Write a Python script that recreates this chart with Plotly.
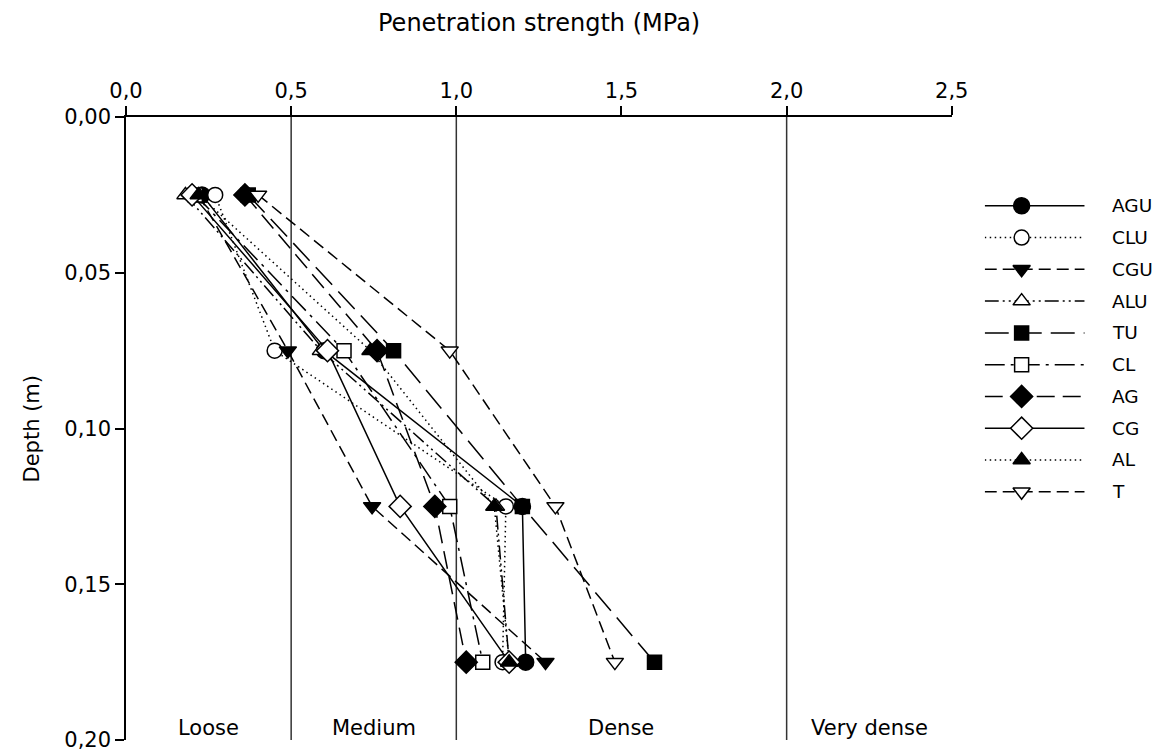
import plotly.graph_objects as go

# ---------------- data ----------------
depths = [0.025, 0.075, 0.125, 0.175]
series_names = ["AGU", "CLU", "CGU", "ALU", "TU", "CL", "AG", "CG", "AL", "T"]
AGU = [0.23, 0.60, 1.20, 1.21]
CLU = [0.27, 0.45, 1.15, 1.14]
CGU = [0.22, 0.49, 0.745, 1.27]
ALU = [0.18, 0.59, 1.12, 1.16]
TU = [0.37, 0.81, 1.20, 1.60]
CL = [0.21, 0.66, 0.98, 1.08]
AG = [0.36, 0.76, 0.935, 1.03]
CG = [0.20, 0.61, 0.83, 1.16]
AL = [0.22, 0.74, 1.115, 1.16]
T = [0.40, 0.98, 1.30, 1.48]
series_values = [AGU, CLU, CGU, ALU, TU, CL, AG, CG, AL, T]

x_ticks = [0.0, 0.5, 1.0, 1.5, 2.0, 2.5]
y_ticks = [0.00, 0.05, 0.10, 0.15, 0.20]
class_names = ["Loose", "Medium", "Dense", "Very dense"]
class_centres = [0.25, 0.75, 1.5, 2.25]
class_bounds = [0.5, 1.0, 2.0]

# ---------------- styles ----------------
symbols = ["circle", "circle", "triangle-down", "triangle-up", "square",
           "square", "diamond", "diamond", "triangle-up", "triangle-down"]
filled = [True, False, True, False, True, False, True, False, True, False]
dashes = ["solid", "1.5px,3.5px", "12px,6px", "14px,4px,2px,4px,2px,4px",
          "24px,9px", "20px,6px,3px,6px", "18px,8px", "solid",
          "1.5px,3.5px", "12px,6px"]
sizes = [16, 15, 15, 15, 14, 14, 17, 17, 15, 15]

FONT = "DejaVu Sans"
W, H = 1167, 753
# observed photo scale vs. figure pixels (empirical)
SX, SY = 0.986, 0.988


def fx(t):
    return t / SX


def fy(t):
    return t / SY


# target geometry (photo pixels) -> figure pixels
X0, X25 = fx(124), fx(952)
Y0, Y20 = fy(116), fy(743)
ML = round(X0)
MT = round(Y0)
MR = 1
MB = max(0, round(H - Y20))
PW = W - ML - MR
PH = H - MT - MB


def px_x(fig_x):
    return (fig_x - ML) / PW


def px_y(fig_y):
    return (H - MB - fig_y) / PH


fig = go.Figure()

for name, vals, sym, fl, dash, sz in zip(series_names, series_values, symbols,
                                         filled, dashes, sizes):
    fig.add_trace(go.Scatter(
        x=vals, y=depths, name=name, mode="lines+markers",
        line=dict(color="black", width=1.5, dash=dash),
        marker=dict(symbol=sym, size=sz, color="black" if fl else "white",
                    line=dict(color="black", width=1.5)),
        showlegend=False, xaxis="x", yaxis="y"))

# custom legend (long keys like the original), in figure pixels
leg_left = fx(985)
leg_width = 200
leg_line = [0, fx(1085) - leg_left]
leg_marker = fx(1022) - leg_left
leg_text = 1126 - leg_left
for i, (name, sym, fl, dash, sz) in enumerate(zip(series_names, symbols, filled,
                                                  dashes, sizes)):
    fig.add_trace(go.Scatter(
        x=leg_line, y=[i, i], mode="lines",
        line=dict(color="black", width=1.5, dash=dash),
        showlegend=False, hoverinfo="skip", xaxis="x2", yaxis="y2"))
    fig.add_trace(go.Scatter(
        x=[leg_marker], y=[i], mode="markers",
        marker=dict(symbol=sym, size=sz, color="black" if fl else "white",
                    line=dict(color="black", width=1.5)),
        showlegend=False, hoverinfo="skip", xaxis="x2", yaxis="y2"))
    fig.add_annotation(x=leg_text, y=i, xref="x2", yref="y2", text=name,
                       showarrow=False, xanchor="left", yanchor="middle",
                       font=dict(family=FONT, size=18.5, color="black"))

# class boundaries
for b in class_bounds:
    fig.add_shape(type="line", xref="x", yref="y", x0=b, x1=b, y0=0, y1=0.2,
                  line=dict(color="#333333", width=1.5), layer="below")

# class labels
for nm, c in zip(class_names, class_centres):
    fig.add_annotation(x=c, y=0.196, xref="x", yref="y", text=nm,
                       showarrow=False, xanchor="center", yanchor="middle",
                       font=dict(family=FONT, size=21, color="black"))

# axis titles
fig.add_annotation(x=1.25, xref="x", y=px_y(fy(21)), yref="paper",
                   text="Penetration strength (MPa)", showarrow=False,
                   xanchor="center", yanchor="middle",
                   font=dict(family=FONT, size=24, color="black"))
fig.add_annotation(x=px_x(fx(30)), xref="paper", y=0.1, yref="y",
                   text="Depth (m)", showarrow=False, textangle=-90,
                   xanchor="center", yanchor="middle",
                   font=dict(family=FONT, size=21, color="black"))

leg_y_top = fy(189)
leg_y_bot = fy(509)
fig.update_layout(
    width=W, height=H,
    margin=dict(l=ML, r=MR, t=MT, b=MB),
    paper_bgcolor="white", plot_bgcolor="white",
    separators=", ",
    font=dict(family=FONT, size=21, color="black"),
    xaxis=dict(domain=[0, px_x(X25)], range=[0, 2.5], side="top",
               tickvals=x_ticks, tickformat=".1f", showgrid=False,
               zeroline=False, showline=True, linecolor="black", linewidth=1.5,
               ticks="outside", ticklen=9, tickwidth=1.5, tickcolor="black",
               tickfont=dict(family=FONT, size=21, color="black"),
               anchor="y"),
    yaxis=dict(domain=[0, 1], range=[0.2, 0], tickvals=y_ticks,
               tickformat=".2f", showgrid=False, zeroline=False,
               showline=True, linecolor="black", linewidth=1.5,
               ticks="outside", ticklen=9, tickwidth=1.5, tickcolor="black",
               tickfont=dict(family=FONT, size=21, color="black"),
               ticklabeloverflow="allow", anchor="x"),
    xaxis2=dict(domain=[px_x(leg_left), min(1.0, px_x(leg_left + leg_width))],
                range=[0, min(leg_width, W - MR - leg_left)], visible=False,
                anchor="y2", fixedrange=True),
    yaxis2=dict(domain=[px_y(leg_y_bot), px_y(leg_y_top)],
                range=[9.5, -0.5], visible=False, anchor="x2", fixedrange=True),
)

fig.write_html(
    "out.html",
    config={"displayModeBar": False},
    post_script="document.body.style.margin='0';"
                "document.body.style.overflow='hidden';",
)
